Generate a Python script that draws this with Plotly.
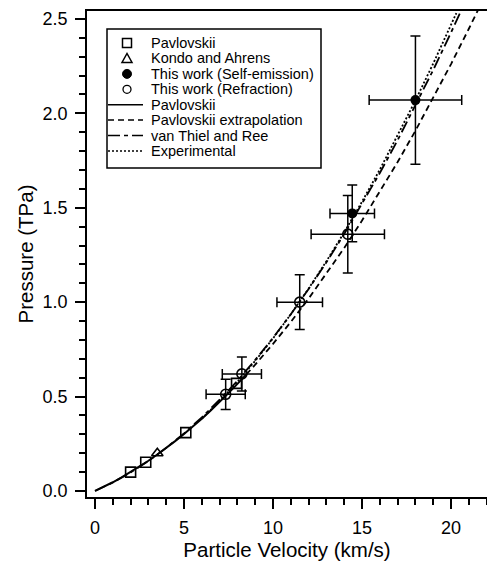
import plotly.graph_objects as go

# ---- data ----
pav_x = [2.0, 2.85, 5.1, 7.95]
pav_y = [0.10, 0.152, 0.309, 0.57]

ka_x = [3.5]
ka_y = [0.20]

self_x = [14.45, 18.0]
self_y = [1.47, 2.07]
self_xerr = [1.25, 2.6]
self_yerr = [0.15, 0.34]

refr_x = [7.34, 8.25, 11.5, 14.2]
refr_y = [0.512, 0.62, 1.0, 1.36]
refr_xerr = [1.1, 1.1, 1.28, 2.06]
refr_yerr = [0.08, 0.09, 0.145, 0.205]

pav_line_x = [0, 0.5, 1, 1.5, 2, 2.5, 3, 3.5, 4, 4.5, 5, 5.5, 6, 6.5, 7, 7.5, 8, 8.5]
pav_line_y = [0, 0.022, 0.046, 0.072, 0.100, 0.129, 0.160, 0.193, 0.227, 0.264,
              0.302, 0.341, 0.383, 0.426, 0.471, 0.518, 0.567, 0.617]

extrap_x = [8.5, 9, 10, 11, 12, 13, 14, 15, 16, 17, 18, 19, 20, 21, 21.5]
extrap_y = [0.617, 0.669, 0.779, 0.895, 1.019, 1.150, 1.287, 1.432, 1.584, 1.742,
            1.908, 2.081, 2.261, 2.448, 2.544]

vtr_x = [0, 1, 2, 3, 4, 5, 6, 7, 8, 9, 10, 11, 12, 13, 14, 15, 16, 17, 18, 19, 20, 20.5]
vtr_y = [0, 0.045, 0.098, 0.159, 0.228, 0.305, 0.390, 0.483, 0.584, 0.694, 0.811,
         0.936, 1.070, 1.211, 1.361, 1.519, 1.684, 1.858, 2.040, 2.230, 2.428, 2.530]

exp_x = [6, 7, 8, 9, 10, 11, 12, 13, 14, 15, 16, 17, 18, 19, 20, 20.3]
exp_y = [0.383, 0.476, 0.578, 0.689, 0.808, 0.936, 1.072, 1.217, 1.370, 1.532,
         1.702, 1.881, 2.068, 2.264, 2.468, 2.531]

x_ticks = [0, 5, 10, 15, 20]
y_ticks = [0.0, 0.5, 1.0, 1.5, 2.0, 2.5]

legend_labels = ["Pavlovskii", "Kondo and Ahrens", "This work (Self-emission)",
                 "This work (Refraction)", "Pavlovskii", "Pavlovskii extrapolation",
                 "van Thiel and Ree", "Experimental"]

FONT = "Arial, Liberation Sans, Helvetica, sans-serif"
BLACK = "black"

fig = go.Figure()

err_style = dict(color=BLACK, thickness=1.5, width=5)

fig.add_trace(go.Scatter(x=pav_x, y=pav_y, mode="markers", name=legend_labels[0],
                         marker=dict(symbol="square-open", size=10, color=BLACK,
                                     line=dict(width=1.6, color=BLACK))))
fig.add_trace(go.Scatter(x=ka_x, y=ka_y, mode="markers", name=legend_labels[1],
                         marker=dict(symbol="triangle-up-open", size=10, color=BLACK,
                                     line=dict(width=1.6, color=BLACK))))
fig.add_trace(go.Scatter(x=self_x, y=self_y, mode="markers", name=legend_labels[2],
                         marker=dict(symbol="circle", size=10, color=BLACK),
                         error_x=dict(type="data", array=self_xerr, **err_style),
                         error_y=dict(type="data", array=self_yerr, **err_style)))
fig.add_trace(go.Scatter(x=refr_x, y=refr_y, mode="markers", name=legend_labels[3],
                         marker=dict(symbol="circle-open", size=10, color=BLACK,
                                     line=dict(width=1.6, color=BLACK)),
                         error_x=dict(type="data", array=refr_xerr, **err_style),
                         error_y=dict(type="data", array=refr_yerr, **err_style)))

line_dashes = ["solid", "6px,4px", "12px,4px,4px,4px", "2px,2px"]

fig.add_trace(go.Scatter(x=pav_line_x, y=pav_line_y, mode="lines", name=legend_labels[4],
                         line=dict(color=BLACK, width=2, dash=line_dashes[0])))
fig.add_trace(go.Scatter(x=extrap_x, y=extrap_y, mode="lines", name=legend_labels[5],
                         line=dict(color=BLACK, width=1.8, dash=line_dashes[1])))
fig.add_trace(go.Scatter(x=vtr_x, y=vtr_y, mode="lines", name=legend_labels[6],
                         line=dict(color=BLACK, width=1.8, dash=line_dashes[2])))
fig.add_trace(go.Scatter(x=exp_x, y=exp_y, mode="lines", name=legend_labels[7],
                         line=dict(color=BLACK, width=1.8, dash=line_dashes[3])))

# ---- compact legend box (drawn as layout decoration) ----
LEG_X0, LEG_X1, LEG_Y0, LEG_Y1 = 0.05, 0.585, 0.677, 0.963
ROW_TOP, ROW_STEP = 0.934, 0.0317
SYM_X, LINE_X0, LINE_X1, TEXT_X = 0.10, 0.0525, 0.14, 0.155

shapes = [dict(type="rect", xref="paper", yref="paper", x0=LEG_X0, x1=LEG_X1,
               y0=LEG_Y0, y1=LEG_Y1, line=dict(color=BLACK, width=1.5),
               fillcolor="white", layer="above")]
annotations = []
for i, lab in enumerate(legend_labels):
    ry = ROW_TOP - i * ROW_STEP
    annotations.append(dict(xref="paper", yref="paper", x=TEXT_X, y=ry, text=lab,
                            showarrow=False, xanchor="left", yanchor="middle",
                            font=dict(family=FONT, size=14.5, color=BLACK)))
    pix = dict(xref="paper", yref="paper", xsizemode="pixel", ysizemode="pixel",
               xanchor=SYM_X, yanchor=ry, layer="above")
    if i == 0:
        shapes.append(dict(type="rect", x0=-4.5, x1=4.5, y0=-4.5, y1=4.5,
                           line=dict(color=BLACK, width=1.5), **pix))
    elif i == 1:
        shapes.append(dict(type="path", path="M -5,-4 L 5,-4 L 0,5 Z",
                           line=dict(color=BLACK, width=1.5), **pix))
    elif i == 2:
        shapes.append(dict(type="circle", x0=-4.5, x1=4.5, y0=-4.5, y1=4.5,
                           line=dict(color=BLACK, width=1), fillcolor=BLACK, **pix))
    elif i == 3:
        shapes.append(dict(type="circle", x0=-4, x1=4, y0=-4, y1=4,
                           line=dict(color=BLACK, width=1.3), **pix))
    else:
        shapes.append(dict(type="line", xref="paper", yref="paper", x0=LINE_X0, x1=LINE_X1,
                           y0=ry, y1=ry, layer="above",
                           line=dict(color=BLACK, width=1.5, dash=line_dashes[i - 4])))

axis_common = dict(showline=True, linecolor=BLACK, linewidth=1.5, showgrid=False,
                   zeroline=False, ticks="outside", ticklen=10, tickwidth=1.5,
                   tickcolor=BLACK, tickfont=dict(family=FONT, size=18, color=BLACK))

fig.update_xaxes(range=[-0.45, 22.02], tickvals=x_ticks, mirror=True, ticklabelstandoff=4,
                 minor=dict(dtick=1, ticks="outside", ticklen=6, tickwidth=1.5, tickcolor=BLACK),
                 title=dict(text="Particle Velocity (km/s)", font=dict(family=FONT, size=20.5, color=BLACK),
                            standoff=0),
                 **axis_common)
fig.update_yaxes(range=[-0.032, 2.542], tickvals=y_ticks, tickformat=".1f", mirror=False,
                 ticklabelstandoff=4,
                 minor=dict(dtick=0.1, ticks="outside", ticklen=6, tickwidth=1.5, tickcolor=BLACK),
                 title=dict(text="Pressure (TPa)", font=dict(family=FONT, size=20.5, color=BLACK),
                            standoff=3),
                 **axis_common)

fig.update_layout(
    width=487, height=562,
    margin=dict(l=87, r=0, t=11, b=65, autoexpand=False),
    plot_bgcolor="white", paper_bgcolor="white",
    font=dict(family=FONT, color=BLACK),
    showlegend=False,
    shapes=shapes,
    annotations=annotations,
)

fig.write_html("out.html")
